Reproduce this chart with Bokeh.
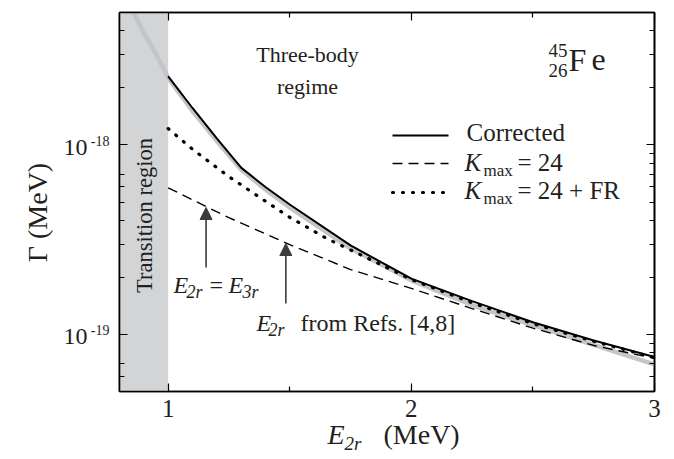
import math

from bokeh.plotting import figure
from bokeh.models import (Range1d, LinearAxis, LogAxis, FixedTicker, Label,
                          Arrow, NormalHead, BoxAnnotation)
from bokeh.embed import file_html
from bokeh.resources import INLINE

# ---------------------------------------------------------------- data
# decay width Gamma (MeV) versus two-body resonance energy E_2r (MeV)
e_corrected = [1.0, 1.1, 1.2, 1.3, 1.4, 1.5, 1.75, 2.0, 2.25, 2.5, 2.75, 3.0]
g_corrected = [2.30e-18, 1.567e-18, 1.084e-18, 7.59e-19, 6.00e-19, 4.85e-19,
               2.95e-19, 1.97e-19, 1.50e-19, 1.16e-19, 9.30e-20, 7.60e-20]

e_kmax = [1.0, 1.25, 1.5, 1.75, 2.0, 2.25, 2.5, 2.75, 3.0]
g_kmax = [5.94e-19, 4.13e-19, 2.98e-19, 2.20e-19, 1.75e-19, 1.37e-19,
          1.08e-19, 8.75e-20, 7.48e-20]

e_kmax_fr = [1.0, 1.1, 1.25, 1.4, 1.5, 1.65, 1.8, 2.0, 2.25, 2.5, 2.75, 3.0]
g_kmax_fr = [1.22e-18, 9.50e-19, 6.80e-19, 5.05e-19, 4.15e-19, 3.22e-19,
             2.60e-19, 1.95e-19, 1.47e-19, 1.14e-19, 9.20e-20, 7.55e-20]

# smooth fit drawn as a broad grey band behind the curves
e_fit = [0.85, 0.9, 0.95, 1.0, 1.1, 1.2, 1.3, 1.4, 1.5, 1.75, 2.0, 2.25,
         2.5, 2.75, 3.0]
g_fit = [5.25e-18, 3.89e-18, 3.02e-18, 2.26e-18, 1.51e-18, 1.05e-18,
         7.41e-19, 5.82e-19, 4.68e-19, 2.85e-19, 1.93e-19, 1.43e-19,
         1.12e-19, 8.80e-20, 6.95e-20]

transition_region = (0.8, 1.0)
arrow_energies = [1.156, 1.484]          # E_2r = E_3r, E_2r from Refs. [4,8]

x_ticks = [1, 2, 3]
x_tick_labels = ["1", "2", "3"]
x_minor = [1.5, 2.5]
y_ticks = [1e-19, 1e-18]
y_tick_mantissa = ["10", "10"]
y_tick_exponents = ["-19", "-18"]
y_minor_left = [6e-20, 7e-20, 2e-19, 3e-19, 4e-19, 5e-19, 6e-19, 7e-19,
                2e-18, 3e-18, 4e-18]
y_minor_right = [6e-20, 7e-20, 8e-20, 9e-20, 2e-19, 3e-19, 4e-19, 5e-19,
                 6e-19, 7e-19, 8e-19, 9e-19, 2e-18, 3e-18, 4e-18]

# ---------------------------------------------------------------- layout
W, H = 674, 459
X0, X1 = 0.8, 3.0
Y0, Y1 = 5e-20, 5e-18
FL, FT, FW, FH = 119, 12, 535, 379      # frame left/top/width/height in px
DEC_PER_PX = (math.log10(Y1) - math.log10(Y0)) / FH

FONT = "Liberation Serif"
INK = "#231f20"
DOTS = "1 9"
DASHES = "10 6"
BASE_SHIFT = 0.4                        # alphabetic anchor correction (em)


def px_x(px):
    """canvas pixel column -> data x"""
    return X0 + (px - FL) / FW * (X1 - X0)


def px_y(py):
    """canvas pixel row -> data y (log axis)"""
    return 10 ** (math.log10(Y1) - (py - FT) * DEC_PER_PX)


p = figure(width=W, height=H, x_range=Range1d(X0, X1),
           y_range=Range1d(Y0, Y1), y_axis_type="log",
           x_axis_location=None, y_axis_location=None,
           output_backend="svg", toolbar_location=None,
           min_border_left=FL, min_border_right=W - FL - FW,
           min_border_top=FT, min_border_bottom=H - FT - FH)
p.grid.grid_line_color = None
p.background_fill_color = "white"
p.border_fill_color = "white"
p.outline_line_color = "black"
p.outline_line_width = 1.6


def tick_axis(ax, ticks, labels=None):
    ax.axis_line_color = "black"
    ax.axis_line_width = 1.6
    ax.major_tick_line_color = "black"
    ax.minor_tick_line_color = "black"
    ax.major_tick_line_width = 1.2
    ax.minor_tick_line_width = 1.2
    ax.major_tick_in = 8
    ax.major_tick_out = 0
    ax.minor_tick_in = 5
    ax.minor_tick_out = 0
    if labels is None:
        # tick marks only: labels kept tiny and unpainted
        ax.major_label_overrides = {t: " " for t in ticks}
        ax.major_label_text_font_size = "1px"
        ax.major_label_text_color = None
        ax.major_label_text_alpha = 0
        ax.major_label_standoff = 0
    else:
        ax.major_label_overrides = dict(zip(ticks, labels))
        ax.major_label_text_font = FONT
        ax.major_label_text_font_size = "25px"
        ax.major_label_text_color = INK
        ax.major_label_standoff = 8


def label_axis(ax, overrides, size, standoff):
    ax.axis_line_color = None
    ax.major_tick_line_color = None
    ax.minor_tick_line_color = None
    ax.major_tick_out = 0
    ax.major_tick_in = 0
    ax.major_label_overrides = overrides
    ax.major_label_text_font = FONT
    ax.major_label_text_font_size = f"{size}px"
    ax.major_label_text_color = INK
    ax.major_label_standoff = standoff


for cls, ticks, minors, side, labels in (
        (LinearAxis, x_ticks, x_minor, "below", x_tick_labels),
        (LinearAxis, x_ticks, x_minor, "above", None),
        (LogAxis, y_ticks, y_minor_left, "left", None),
        (LogAxis, y_ticks, y_minor_right, "right", None)):
    ax = cls(ticker=FixedTicker(ticks=ticks, minor_ticks=minors))
    tick_axis(ax, ticks, labels)
    p.add_layout(ax, side)

# y tick labels 10^n: exponent raised, mantissa slightly lowered
exp_pos = [t * 10 ** (4 * DEC_PER_PX) for t in y_ticks]
man_pos = [t * 10 ** (-2.5 * DEC_PER_PX) for t in y_ticks]
ax_exp = LogAxis(ticker=FixedTicker(ticks=exp_pos, minor_ticks=[]))
label_axis(ax_exp, dict(zip(exp_pos, y_tick_exponents)), 14, 10)
p.add_layout(ax_exp, "left")
ax_man = LogAxis(ticker=FixedTicker(ticks=man_pos, minor_ticks=[]))
label_axis(ax_man, dict(zip(man_pos, y_tick_mantissa)), 24, 0)
ax_man.axis_label = "\u0393  (MeV)\u00a0\u00a0"
ax_man.axis_label_text_font = FONT
ax_man.axis_label_text_font_size = "28px"
ax_man.axis_label_text_font_style = "normal"
ax_man.axis_label_text_color = INK
ax_man.axis_label_standoff = 8
p.add_layout(ax_man, "left")

# transition region shading
p.add_layout(BoxAnnotation(left=transition_region[0], right=transition_region[1],
                           fill_color="#d3d4d6", fill_alpha=1.0,
                           line_color=None, level="underlay"))

# curves
p.line(e_fit, g_fit, line_color="#c2c5c9", line_width=4.5)
p.line(e_kmax, g_kmax, line_color="black", line_width=1.4, line_dash=DASHES)
p.line(e_kmax_fr, g_kmax_fr, line_color="black", line_width=3.2,
       line_dash=DOTS, line_cap="round")
p.line(e_corrected, g_corrected, line_color="black", line_width=2)


def ptext(px, py, s, size, italic=False, align="left", angle=0.0,
          place="center"):
    """text anchored at its baseline, given in canvas pixels"""
    if angle:
        x, y = px_x(px - BASE_SHIFT * size), px_y(py)
    else:
        x, y = px_x(px), px_y(py - BASE_SHIFT * size)
    p.add_layout(Label(x=x, y=y, text=s, text_font=FONT,
                       text_font_size=f"{size}px",
                       text_font_style="italic" if italic else "normal",
                       text_align=align, text_baseline="alphabetic",
                       angle=angle, text_color=INK), place)


# region annotations
ptext(153, 215, "Transition region", 22.5, align="center", angle=math.pi / 2)
ptext(307, 63, "Three-body", 22, align="center")
ptext(307, 95, "regime", 22, align="center")

# nucleus symbol
ptext(568, 72, "F", 32)
ptext(591, 72, "e", 32)
ptext(567, 58, "45", 19, align="right")
ptext(567, 78, "26", 19, align="right")

# legend
leg_x0, leg_x1 = px_x(392), px_x(448)
rows = [px_y(135), px_y(163), px_y(192)]
p.line([leg_x0, leg_x1], [rows[0]] * 2, line_color="black", line_width=2)
p.line([leg_x0, leg_x1], [rows[1]] * 2, line_color="black", line_width=1.4,
       line_dash=DASHES)
p.line([leg_x0, leg_x1], [rows[2]] * 2, line_color="black", line_width=3.2,
       line_dash=DOTS, line_cap="round")
ptext(466, 142, "Corrected", 25)
for base, rest in ((172, "= 24"), (200, "= 24 + FR")):
    ptext(464, base, "K", 25, italic=True)
    ptext(483, base + 5, "max", 17)
    ptext(517, base, rest, 25)

# arrows to the K_max = 24 curve
arrow_color = "#3c3c3c"
for xe, tail_py, tip_py in zip(arrow_energies, (267, 303), (207, 243)):
    p.add_layout(Arrow(x_start=xe, y_start=px_y(tail_py), x_end=xe,
                       y_end=px_y(tip_py), line_color=arrow_color,
                       line_width=1.6,
                       end=NormalHead(size=12, fill_color=arrow_color,
                                      line_color=arrow_color)))

ptext(173, 294, "E", 24, italic=True)
ptext(186, 299, "2r", 18, italic=True)
ptext(209, 294, "=", 24)
ptext(228, 294, "E", 24, italic=True)
ptext(242, 299, "3r", 18, italic=True)

ptext(256, 332, "E", 24, italic=True)
ptext(268, 337, "2r", 18, italic=True)
ptext(300, 332, "from Refs. [4,8]", 24)

# x-axis title; its pieces sit in the side panels so they are not clipped
ptext(327, 445, "E", 28, italic=True, place="right")
ptext(344, 451, "2r", 19, italic=True, place="left")
ptext(383, 445, "(MeV)", 28, place="below")

open("out.html", "w").write(file_html(p, INLINE))
